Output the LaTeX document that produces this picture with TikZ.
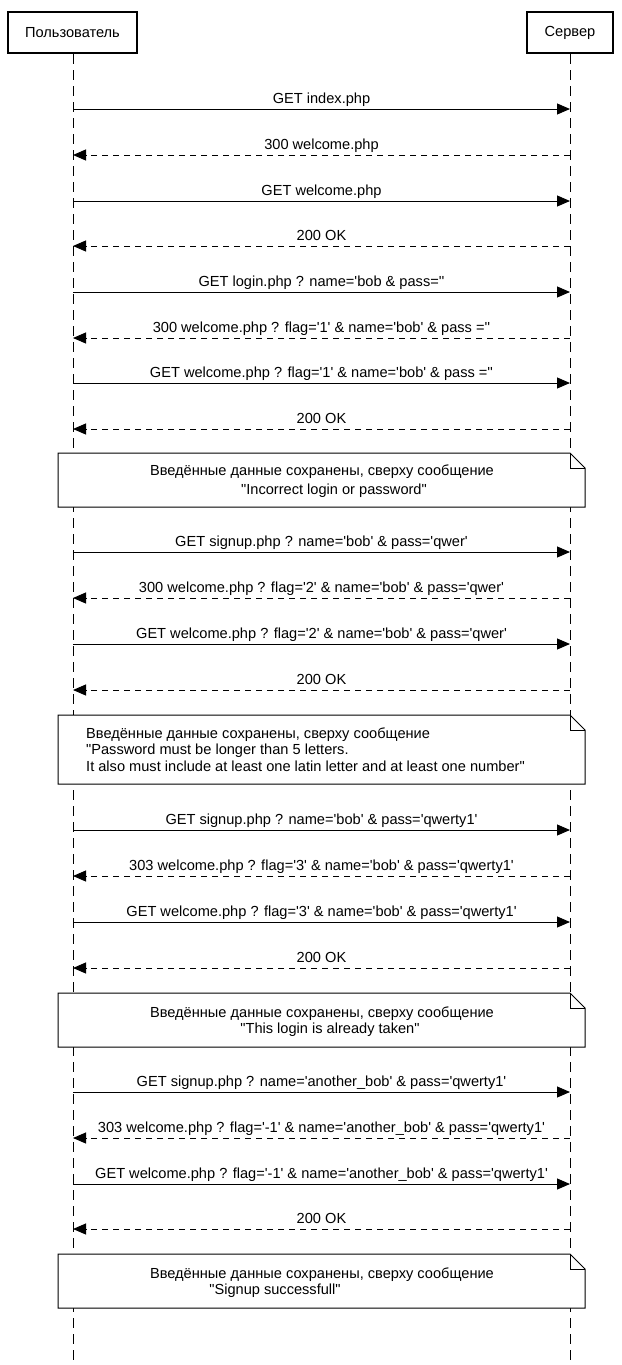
\documentclass[tikz,border=0pt]{standalone}
\usepackage{fontspec}
\newfontfamily\af{Liberation Sans}
\usetikzlibrary{arrows.meta}
\newcommand\fs{\af\fontsize{14.6}{16}\selectfont}
\tikzset{
  actor/.style={draw, line width=2pt, minimum width=129pt, minimum height=41pt, inner sep=0pt, font=\fs},
  lifeline/.style={line width=1pt, dash pattern=on 10pt off 6pt},
  call/.style={line width=1pt, -{Triangle[length=13pt,width=11pt]}},
  reply/.style={line width=1pt, dash pattern=on 6pt off 5pt, -{Triangle[length=13pt,width=11pt]}},
  lbl/.style={font=\fs, inner sep=0pt, anchor=base},
  notebox/.style={draw, line width=1pt, fill=white},
  ntext/.style={font=\fs, inner sep=0pt, anchor=base}
}
\begin{document}
\begin{tikzpicture}[x=1pt,y=-1pt]
\useasboundingbox (0,0) rectangle (621,1365);
\node[actor] (user) at (72.5,32.5) {Пользователь};
\node[actor, minimum width=86pt] (srv) at (570,32.5) {Сервер};
\coordinate (uend) at (73,1365);
\coordinate (send) at (570,1365);
\draw[lifeline] (user.south -| uend) -- (uend);
\draw[lifeline] (srv.south -| send) -- (send);

% messages
\foreach \y/\t/\k in {
 109/{GET index.php}/c,
 155/{300 welcome.php}/r,
 201/{GET welcome.php}/c,
 246/{200 OK}/r,
 292/{GET login.php ? name='bob \& pass=''}/c,
 338/{300 welcome.php ? flag='1' \& name='bob' \& pass =''}/r,
 383/{GET welcome.php ? flag='1' \& name='bob' \& pass =''}/c,
 429/{200 OK}/r,
 552/{GET signup.php ? name='bob' \& pass='qwer'}/c,
 598/{300 welcome.php ? flag='2' \& name='bob' \& pass='qwer'}/r,
 644/{GET welcome.php ? flag='2' \& name='bob' \& pass='qwer'}/c,
 690/{200 OK}/r,
 830/{GET signup.php ? name='bob' \& pass='qwerty1'}/c,
 876/{303 welcome.php ? flag='3' \& name='bob' \& pass='qwerty1'}/r,
 922/{GET welcome.php ? flag='3' \& name='bob' \& pass='qwerty1'}/c,
 968/{200 OK}/r,
 1092/{GET signup.php ? name='another\_bob' \& pass='qwerty1'}/c,
 1138/{303 welcome.php ? flag='-1' \& name='another\_bob' \& pass='qwerty1'}/r,
 1184/{GET welcome.php ? flag='-1' \& name='another\_bob' \& pass='qwerty1'}/c,
 1229/{200 OK}/r}{
  \coordinate (u\y) at (73,\y);
  \coordinate (s\y) at (570,\y);
  \if\k c
    \draw[call] (u\y) -- node[lbl, yshift=6pt] (m\y) {\t} (s\y);
  \else
    \draw[reply] (s\y) -- node[lbl, yshift=6pt] (m\y) {\t} (u\y);
  \fi
}

% notes
\newcommand\notepath[2]{%
  \draw[notebox] (58,#1) -- (570,#1) -- (585,#1+15) -- (585,#2) -- (58,#2) -- cycle;
  \draw[line width=1pt] (570,#1) -- (570,#1+15) -- (585,#1+15);
}
\notepath{453}{507}
\node[ntext] (n1a) at (322,475) {Введённые данные сохранены, сверху сообщение};
\node[ntext] (n1b) at (334,494) {"Incorrect login or password"};

\notepath{715}{784}
\node[ntext, anchor=base west] (n2a) at (86,738) {Введённые данные сохранены, сверху сообщение};
\node[ntext, anchor=base west] (n2b) at (86,754) {"Password must be longer than 5 letters.};
\node[ntext, anchor=base west] (n2c) at (86,771) {It also must include at least one latin letter and at least one number"};

\notepath{993}{1047}
\node[ntext] (n3a) at (322,1017) {Введённые данные сохранены, сверху сообщение};
\node[ntext] (n3b) at (330,1033) {"This login is already taken"};

\notepath{1254}{1308}
\node[ntext] (n4a) at (322,1278) {Введённые данные сохранены, сверху сообщение};
\node[ntext] (n4b) at (275,1294) {"Signup successfull"};
\end{tikzpicture}
\end{document}
